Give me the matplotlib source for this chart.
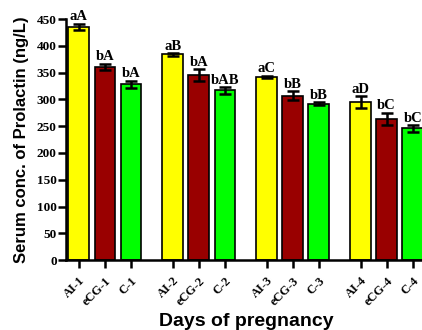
import matplotlib.pyplot as plt
import numpy as np

labels = ['AI-1', 'eCG-1', 'C-1', 'AI-2', 'eCG-2', 'C-2',
          'AI-3', 'eCG-3', 'C-3', 'AI-4', 'eCG-4', 'C-4']
values = [435, 361, 328, 384, 345, 317, 342, 307, 292, 295, 264, 246]
errors = [6, 6, 7, 2, 11, 6, 2, 8, 3, 11, 11, 6]
letters = ['aA', 'bA', 'bA', 'aB', 'bA', 'bAB', 'aC', 'bB', 'bB', 'aD', 'bC', 'bC']
colors = ['#FFFF00', '#990000', '#00FF00'] * 4

pos = np.array([g * 3.6 + j for g in range(4) for j in range(3)])

fig = plt.figure(figsize=(4.22, 3.30), dpi=100)
ax = fig.add_axes([0.156, 0.212, 0.853, 0.730])

ax.bar(pos, values, width=0.8, color=colors, edgecolor='black', linewidth=1.2, zorder=2)
ax.errorbar(pos, values, yerr=errors, fmt='none', ecolor='black', elinewidth=1.8,
            capsize=4.5, capthick=1.8, zorder=3)

for x, v, e, t in zip(pos, values, errors, letters):
    ax.text(x, v + e + 1, t, ha='center', va='bottom', fontsize=10.5,
            fontweight='bold', family='Liberation Serif')

ax.set_xlim(-0.5, 13.3)
ax.set_ylim(0, 450)
ax.set_yticks(np.arange(0, 451, 50))
ax.set_xticks(pos)
ax.set_xticklabels(labels, rotation=45, ha='right', rotation_mode='anchor',
                   fontsize=9, fontweight='bold', family='Liberation Serif')
for lab in ax.get_yticklabels():
    lab.set_family('Liberation Serif')
    lab.set_fontweight('bold')
    lab.set_fontsize(9.5)

ax.spines['top'].set_visible(False)
ax.spines['right'].set_visible(False)
ax.spines['left'].set_linewidth(1.8)
ax.spines['bottom'].set_linewidth(1.8)
ax.tick_params(axis='both', width=1.8, length=5.5)
ax.tick_params(axis='y', pad=1)
ax.tick_params(axis='x', pad=5)

ax.set_ylabel('Serum conc. of Prolactin (ng/L)', fontsize=12, fontweight='bold',
              family='Liberation Sans', labelpad=6)
ax.set_xlabel('Days of pregnancy', fontsize=14, fontweight='bold',
              family='Liberation Sans', labelpad=4)

plt.savefig('out.png', dpi=100)
